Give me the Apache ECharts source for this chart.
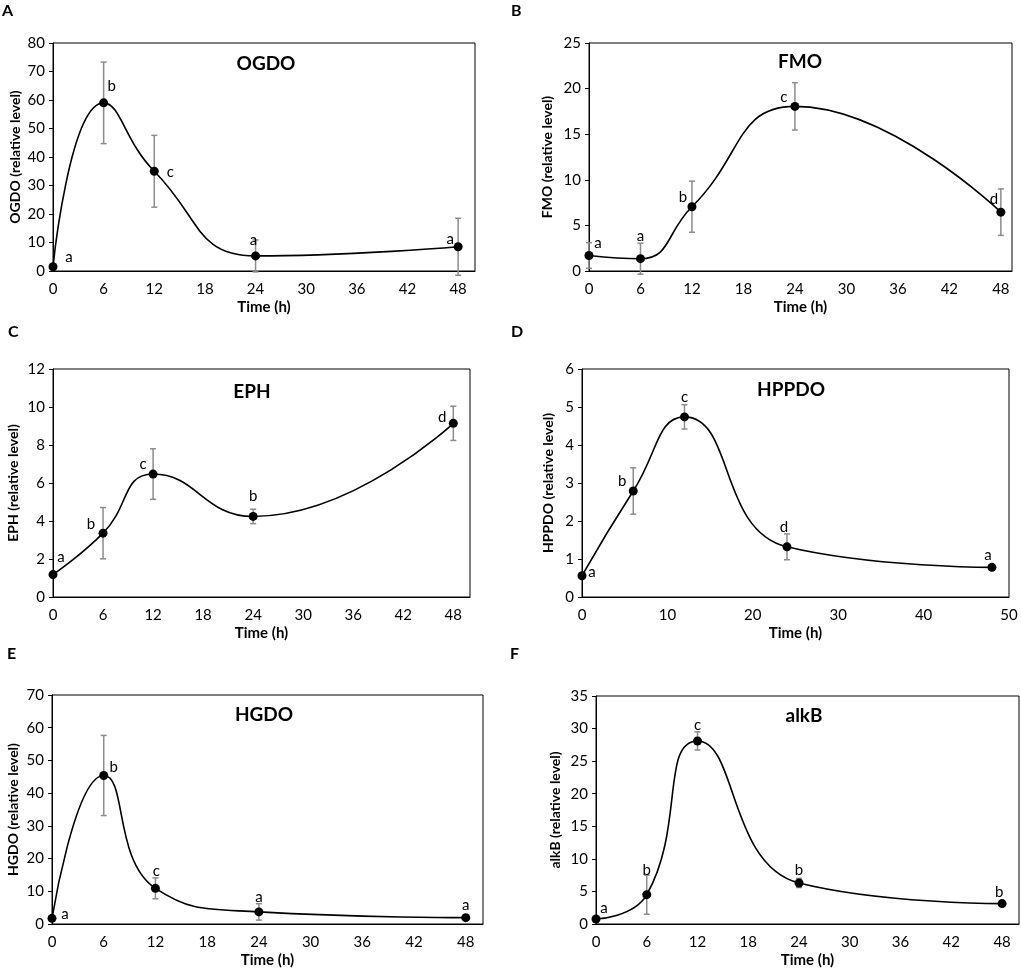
<!DOCTYPE html>
<html lang="en">
<head>
    <meta charset="UTF-8">
    <title>Gene expression over time</title>
    <script src="https://cdn.jsdelivr.net/npm/echarts@6/dist/echarts.min.js"></script>
    <style>
        * {
            margin: 0;
            padding: 0;
        }

        html, body {
            width: 100%;
            height: 100%;
            overflow: hidden;
            background: #fff;
        }

        .box {
            width: 1021px;
            height: 971px;
        }
    </style>
</head>
<body>
<div class="box"></div>
<script>
    // sampling times (h)
    let hours = [0, 6, 12, 24, 48];

    // relative levels, error bar half-widths and significance letters
    let ogdoMean = [1.5, 59, 35, 5.3, 8.5];
    let ogdoErr = [0.4, 14.3, 12.6, 5.6, 10];
    let ogdoLetters = ['a', 'b', 'c', 'a', 'a'];

    let fmoMean = [1.7, 1.35, 7.05, 18.05, 6.45];
    let fmoErr = [1.4, 1.7, 2.8, 2.6, 2.55];
    let fmoLetters = ['a', 'a', 'b', 'c', 'd'];

    let ephMean = [1.18, 3.36, 6.47, 4.24, 9.14];
    let ephErr = [0.1, 1.35, 1.33, 0.38, 0.9];
    let ephLetters = ['a', 'b', 'c', 'b', 'd'];

    let hppdoMean = [0.56, 2.79, 4.74, 1.32, 0.78];
    let hppdoErr = [0.03, 0.61, 0.32, 0.34, 0.04];
    let hppdoLetters = ['a', 'b', 'c', 'd', 'a'];

    let hgdoMean = [1.74, 45.4, 10.9, 3.7, 1.94];
    let hgdoErr = [0.3, 12.25, 3.2, 2.5, 0.3];
    let hgdoLetters = ['a', 'b', 'c', 'a', 'a'];

    let alkbMean = [0.77, 4.5, 28.1, 6.3, 3.13];
    let alkbErr = [0.2, 3.0, 1.4, 0.7, 0.2];
    let alkbLetters = ['a', 'b', 'c', 'b', 'b'];

    let font = 'Lato, "Open Sans", sans-serif';

    // layout of each panel (pixels)
    let panels = [
        {tag: 'A', name: 'OGDO', mean: ogdoMean, err: ogdoErr, letters: ogdoLetters,
            grid: [53, 43, 422, 228], yMax: 80, yStep: 10, xStep: 6, xMax: 50, yGap: 31,
            tagPos: [8, 13], titlePos: [266, 64],
            offs: [[16, -10], [8, -17], [16, 1], [-2, -16], [-8, -8]]},
        {tag: 'B', name: 'FMO', mean: fmoMean, err: fmoErr, letters: fmoLetters,
            grid: [589, 43, 423, 228], yMax: 25, yStep: 5, xStep: 6, xMax: 49.3, yGap: 35,
            tagPos: [517, 13], titlePos: [800, 62],
            offs: [[9, -12], [0, -23], [-9, -10], [-11, -9], [-7, -13]]},
        {tag: 'C', name: 'EPH', mean: ephMean, err: ephErr, letters: ephLetters,
            grid: [53, 369, 417, 228], yMax: 12, yStep: 2, xStep: 6, xMax: 50, yGap: 33,
            tagPos: [14, 334], titlePos: [252, 392],
            offs: [[8, -17], [-12, -9], [-10, -10], [0, -20], [-11, -6]]},
        {tag: 'D', name: 'HPPDO', mean: hppdoMean, err: hppdoErr, letters: hppdoLetters,
            grid: [582, 369, 427, 228], yMax: 6, yStep: 1, xStep: 10, xMax: 50, yGap: 27,
            tagPos: [517, 334], titlePos: [791, 390],
            offs: [[10, -4], [-11, -10], [0, -20], [-3, -20], [-4, -12]]},
        {tag: 'E', name: 'HGDO', mean: hgdoMean, err: hgdoErr, letters: hgdoLetters,
            grid: [52, 695, 431, 229], yMax: 70, yStep: 10, xStep: 6, xMax: 50, yGap: 32,
            tagPos: [13, 656], titlePos: [264, 715],
            offs: [[13, -4], [10, -8], [1, -17], [0, -15], [0, -12]]},
        {tag: 'F', name: 'alkB', mean: alkbMean, err: alkbErr, letters: alkbLetters,
            grid: [596, 696, 423, 228], yMax: 35, yStep: 5, xStep: 6, xMax: 50, yGap: 34,
            tagPos: [516, 656], titlePos: [804, 716],
            offs: [[8, -11], [0, -25], [0, -16], [0, -13], [-3, -11]]}
    ];

    let mychart = echarts.init(document.querySelector('.box'), null, {renderer: 'canvas'});

    let grid = [], xAxis = [], yAxis = [], series = [], graphic = [];

    panels.forEach((p, i) => {
        grid.push({
            left: p.grid[0], top: p.grid[1], width: p.grid[2], height: p.grid[3],
            show: true, borderColor: '#000', borderWidth: 1, backgroundColor: '#fff'
        });
        xAxis.push({
            type: 'value', gridIndex: i, min: 0, max: p.xMax, interval: p.xStep,
            name: 'Time (h)', nameLocation: 'middle', nameGap: 29,
            nameTextStyle: {fontFamily: font, fontWeight: 'bold', fontSize: 15, color: '#000'},
            axisLine: {lineStyle: {color: '#000', width: 1}},
            axisTick: {show: false},
            splitLine: {show: false},
            axisLabel: {fontFamily: font, fontSize: 15, color: '#000', margin: 11, showMaxLabel: p.xMax % p.xStep === 0}
        });
        yAxis.push({
            type: 'value', gridIndex: i, min: 0, max: p.yMax, interval: p.yStep,
            name: p.name + ' (relative level)', nameLocation: 'middle', nameGap: p.yGap,
            nameTextStyle: {fontFamily: font, fontWeight: 'bold', fontSize: 14, color: '#000'},
            axisLine: {show: true, lineStyle: {color: '#000', width: 1}},
            axisTick: {show: true, length: 4, lineStyle: {color: '#000'}},
            splitLine: {show: false},
            axisLabel: {fontFamily: font, fontSize: 15, color: '#000', margin: 8}
        });

        let pts = hours.map((h, k) => [h, p.mean[k]]);

        // smoothed curve
        series.push({
            type: 'line', xAxisIndex: i, yAxisIndex: i, data: pts,
            smooth: 0.5, symbol: 'none', z: 2,
            lineStyle: {color: '#000', width: 1.6}
        });

        // error bars
        series.push({
            type: 'custom', xAxisIndex: i, yAxisIndex: i, z: 3, clip: false,
            data: hours.map((h, k) => [h, p.mean[k], p.err[k]]),
            renderItem: function (params, api) {
                let x = api.value(0), y = api.value(1), e = api.value(2);
                let hi = api.coord([x, y + e]);
                let lo = api.coord([x, y - e]);
                let style = {stroke: '#8c8c8c', lineWidth: 1.5};
                return {
                    type: 'group',
                    children: [
                        {type: 'line', shape: {x1: hi[0], y1: hi[1], x2: lo[0], y2: lo[1]}, style},
                        {type: 'line', shape: {x1: hi[0] - 3, y1: hi[1], x2: hi[0] + 3, y2: hi[1]}, style},
                        {type: 'line', shape: {x1: lo[0] - 3, y1: lo[1], x2: lo[0] + 3, y2: lo[1]}, style}
                    ]
                };
            }
        });

        // dots with letters
        series.push({
            type: 'scatter', xAxisIndex: i, yAxisIndex: i, z: 4,
            symbol: 'circle', symbolSize: 9,
            itemStyle: {color: '#000', opacity: 1},
            data: pts.map((v, k) => ({
                value: v, name: p.letters[k],
                label: {offset: p.offs[k]}
            })),
            label: {
                show: true, position: 'inside',
                formatter: param => param.name,
                fontFamily: font, fontSize: 15, color: '#000'
            }
        });

        graphic.push({
            type: 'text', left: p.tagPos[0] - 6, top: p.tagPos[1] - 10,
            style: {text: p.tag, font: 'bold 16px ' + font, fill: '#000'}
        });
        graphic.push({
            type: 'text', x: p.titlePos[0], y: p.titlePos[1],
            style: {text: p.name, font: 'bold 19px ' + font, fill: '#000', align: 'center', verticalAlign: 'middle'}
        });
    });

    mychart.setOption({
        backgroundColor: '#fff',
        animation: false,
        grid,
        xAxis,
        yAxis,
        series,
        graphic
    });
</script>
</body>
</html>
